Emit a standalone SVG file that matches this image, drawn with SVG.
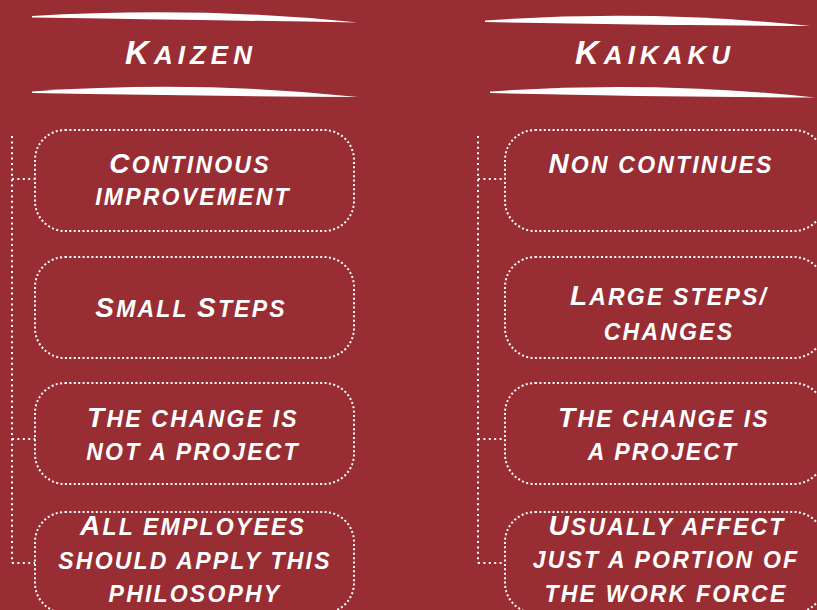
<svg xmlns="http://www.w3.org/2000/svg" width="817" height="610" viewBox="0 0 817 610">
<style>
.bg{fill:#982d33}
.brush{fill:#ffffff}
.box{fill:none;stroke:#ffffff;stroke-width:2;stroke-dasharray:2 2.4}
.conn{fill:none;stroke:#ffffff;stroke-width:2;stroke-dasharray:2 3.4}
text{font-family:"Liberation Sans",Arial,sans-serif;font-weight:bold;font-style:italic;text-transform:uppercase;fill:#ffffff;text-anchor:middle}
.title{font-size:26px;letter-spacing:5px}
.tcap{font-size:33px}
.t{font-size:23px;letter-spacing:2.2px}
.cap{font-size:28px}
</style>
<rect class="bg" x="0" y="0" width="817" height="610"/>
<g id="header-kaizen">
<path class="brush" d="M32,16 Q200,6 358,22.5 Q200,20 32,17.5 Z"/>
<path class="brush" d="M32,91.5 Q200,80 358,97 Q200,96 32,93 Z"/>
<text class="title" x="191" y="64"><tspan class="tcap">K</tspan>aizen</text>
</g>
<g id="header-kaikaku">
<path class="brush" d="M485,20.5 Q650,9 810,26 Q650,25 485,22 Z"/>
<path class="brush" d="M490,91.5 Q652,80 815,97.5 Q652,97 490,93 Z"/>
<text class="title" x="655" y="64"><tspan class="tcap">K</tspan>aikaku</text>
</g>
<g id="connectors">
<path class="conn" d="M12,136 V563 M12,179 H35 M12,439 H35 M12,563 H35"/>
<path class="conn" d="M478,136 V563 M478,179 H505 M478,439 H505 M478,563 H505"/>
</g>
<g id="k1">
<rect class="box" x="35" y="130" width="319" height="101" rx="30"/>
<text class="t" x="190" y="173"><tspan class="cap">C</tspan>ontinous</text>
<text class="t" x="193" y="205">improvement</text>
</g>
<g id="k2">
<rect class="box" x="35" y="257" width="319" height="101" rx="30"/>
<text class="t" x="191" y="317"><tspan class="cap">S</tspan>mall <tspan class="cap">S</tspan>teps</text>
</g>
<g id="k3">
<rect class="box" x="35" y="383" width="319" height="101" rx="30"/>
<text class="t" x="193" y="427"><tspan class="cap">T</tspan>he change is</text>
<text class="t" x="193" y="460">not a project</text>
</g>
<g id="k4">
<rect class="box" x="35" y="512" width="319" height="101" rx="30"/>
<text class="t" x="193" y="535"><tspan class="cap">A</tspan>ll employees</text>
<text class="t" x="195" y="569">should apply this</text>
<text class="t" x="195" y="602">philosophy</text>
</g>
<g id="c1">
<rect class="box" x="505" y="130" width="319" height="101" rx="30"/>
<text class="t" x="661" y="173"><tspan class="cap">N</tspan>on continues</text>
</g>
<g id="c2">
<rect class="box" x="505" y="257" width="319" height="101" rx="30"/>
<text class="t" x="669" y="305"><tspan class="cap">L</tspan>arge steps/</text>
<text class="t" x="669" y="340">changes</text>
</g>
<g id="c3">
<rect class="box" x="505" y="383" width="319" height="101" rx="30"/>
<text class="t" x="664" y="427"><tspan class="cap">T</tspan>he change is</text>
<text class="t" x="663" y="460">a project</text>
</g>
<g id="c4">
<rect class="box" x="505" y="512" width="319" height="101" rx="30"/>
<text class="t" x="667" y="535"><tspan class="cap">U</tspan>sually affect</text>
<text class="t" x="666" y="568">just a portion of</text>
<text class="t" x="666" y="602">the work force</text>
</g>
</svg>
